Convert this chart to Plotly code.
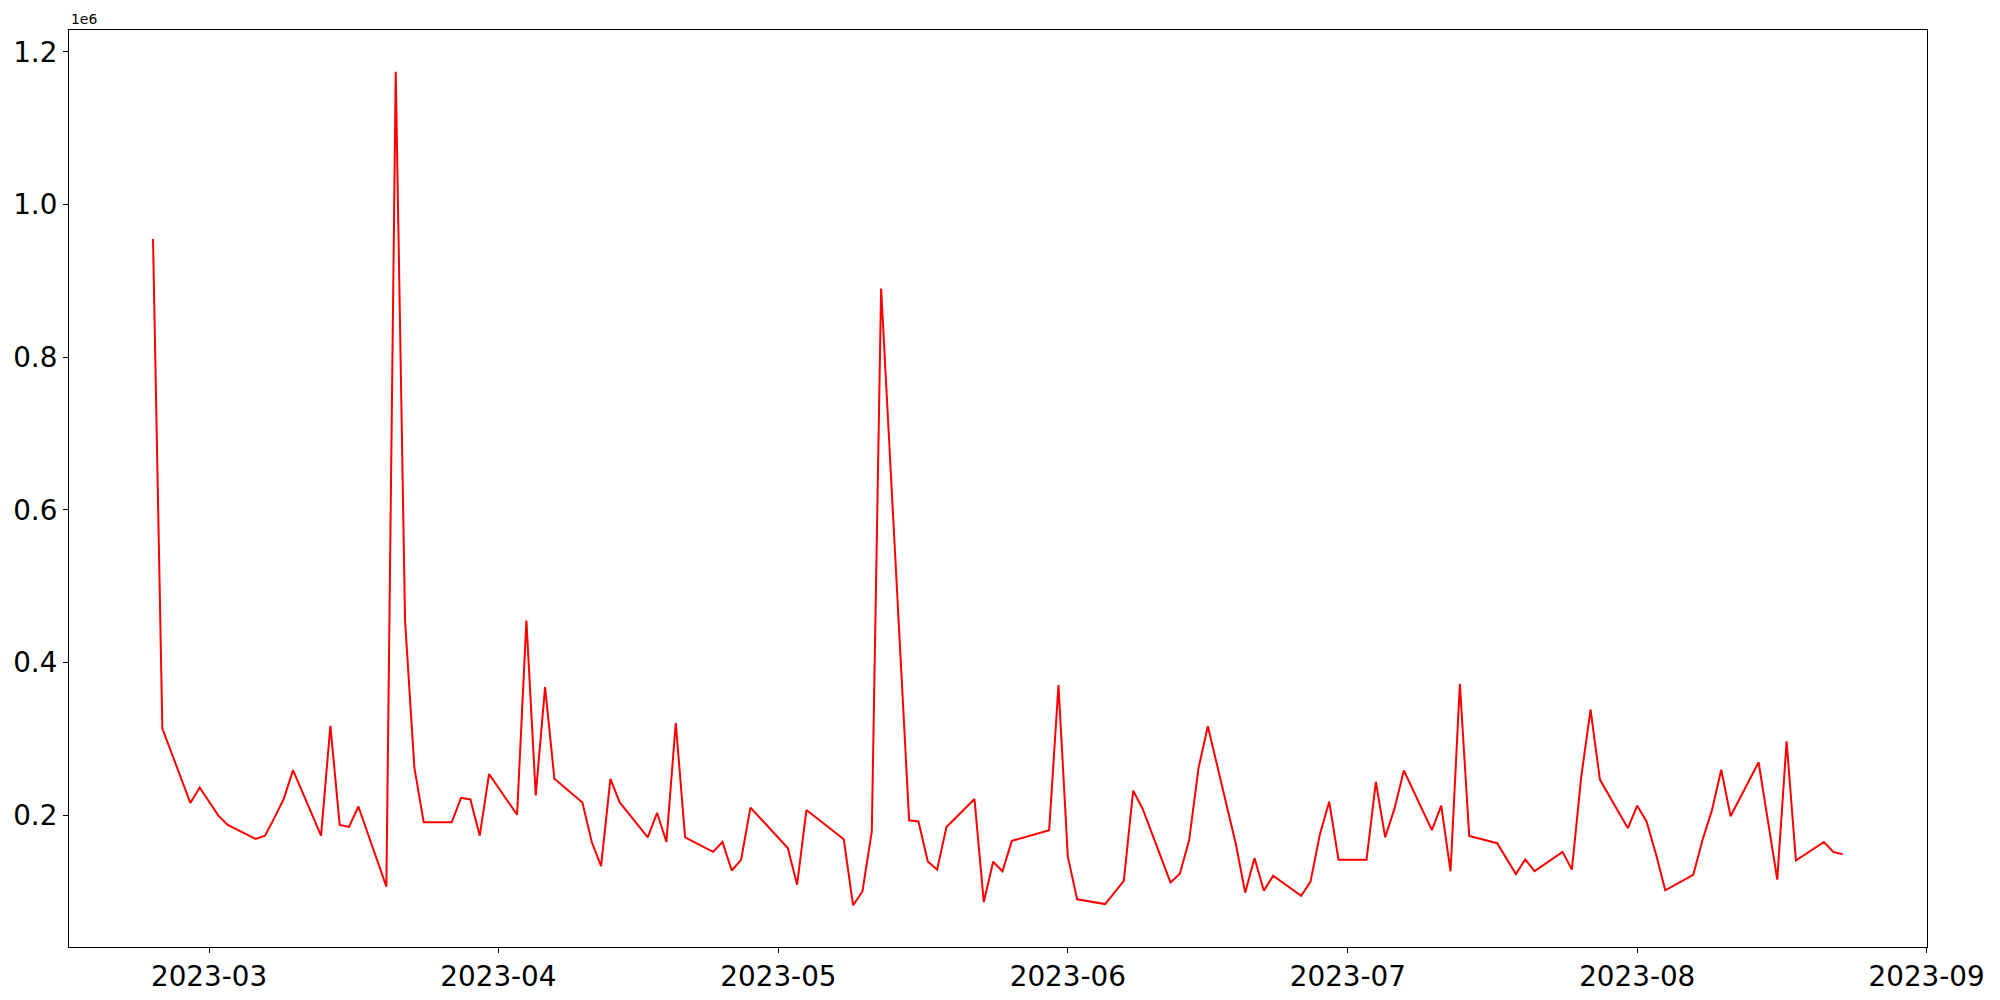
import plotly.graph_objects as go

# weekday series (values in units, axis shown in 1e6)
dates = [
    "2023-02-23", "2023-02-24", "2023-02-27", "2023-02-28", "2023-03-02", "2023-03-03",
    "2023-03-06", "2023-03-07", "2023-03-08", "2023-03-09", "2023-03-10",
    "2023-03-13", "2023-03-14", "2023-03-15", "2023-03-16", "2023-03-17",
    "2023-03-20", "2023-03-21", "2023-03-22", "2023-03-23", "2023-03-24",
    "2023-03-27", "2023-03-28", "2023-03-29", "2023-03-30", "2023-03-31",
    "2023-04-03", "2023-04-04", "2023-04-05", "2023-04-06", "2023-04-07",
    "2023-04-10", "2023-04-11", "2023-04-12", "2023-04-13", "2023-04-14",
    "2023-04-17", "2023-04-18", "2023-04-19", "2023-04-20", "2023-04-21",
    "2023-04-24", "2023-04-25", "2023-04-26", "2023-04-27", "2023-04-28",
    "2023-05-02", "2023-05-03", "2023-05-04",
    "2023-05-08", "2023-05-09", "2023-05-10", "2023-05-11", "2023-05-12",
    "2023-05-15", "2023-05-16", "2023-05-17", "2023-05-18", "2023-05-19",
    "2023-05-22", "2023-05-23", "2023-05-24", "2023-05-25", "2023-05-26",
    "2023-05-30", "2023-05-31", "2023-06-01", "2023-06-02",
    "2023-06-05", "2023-06-07", "2023-06-08", "2023-06-09",
    "2023-06-12", "2023-06-13", "2023-06-14", "2023-06-15", "2023-06-16",
    "2023-06-19", "2023-06-20", "2023-06-21", "2023-06-22", "2023-06-23",
    "2023-06-26", "2023-06-27", "2023-06-28", "2023-06-29", "2023-06-30",
    "2023-07-03", "2023-07-04", "2023-07-05", "2023-07-06", "2023-07-07",
    "2023-07-10", "2023-07-11", "2023-07-12", "2023-07-13", "2023-07-14",
    "2023-07-17", "2023-07-19", "2023-07-20", "2023-07-21",
    "2023-07-24", "2023-07-25", "2023-07-26", "2023-07-27", "2023-07-28",
    "2023-07-31", "2023-08-01", "2023-08-02", "2023-08-03", "2023-08-04",
    "2023-08-07", "2023-08-08", "2023-08-09", "2023-08-10", "2023-08-11",
    "2023-08-14", "2023-08-16", "2023-08-17", "2023-08-18",
    "2023-08-21", "2023-08-22", "2023-08-23",
]
values = [
    955000, 313700, 216300, 236500, 199700, 187400,
    169200, 173400, 196700, 221400, 259300,
    173400, 317300, 187400, 184800, 211600,
    106600, 1174000, 455000, 262400, 190900,
    190900, 223000, 220900, 173400, 254200,
    200800, 455000, 226200, 368000, 247900,
    216900, 165100, 133500, 247900, 216900,
    171300, 203400, 165100, 321000, 171300,
    152200, 165100, 127800, 141800, 210200,
    157300, 109200, 207000,
    168700, 82200, 100300, 179000, 890000,
    193500, 192000, 139700, 128900, 184800,
    221400, 86400, 139200, 126800, 166600,
    180600, 370600, 145900, 90000,
    83800, 114300, 232400, 209100,
    112200, 123600, 167600, 261900, 316800,
    162500, 98800, 144300, 101400, 121000,
    94700, 113300, 175000, 217900, 141800,
    141800, 243800, 171300, 209100, 258800,
    180600, 212700, 126800, 372200, 172900,
    163600, 123100, 142300, 127000,
    152200, 128900, 250500, 338500, 246900,
    183200, 212700, 192000, 149600, 101900,
    122100, 168000, 206500, 259800, 198800,
    269600, 115900, 297100, 140800,
    165100, 152200, 149000,
]

y_ticks = [200000, 400000, 600000, 800000, 1000000, 1200000]
y_tick_labels = ["0.2", "0.4", "0.6", "0.8", "1.0", "1.2"]

font = "DejaVu Sans"

fig = go.Figure()
fig.add_trace(go.Scatter(
    x=dates, y=values, mode="lines",
    line=dict(color="red", width=2),
))

axis_style = dict(
    showline=True, linecolor="black", linewidth=1.1, mirror=True,
    ticks="outside", ticklen=5, tickwidth=1.1, tickcolor="black",
    showgrid=False, zeroline=False, automargin=False,
    tickfont=dict(family=font, size=27.8, color="black"),
)

fig.update_xaxes(
    type="date",
    range=["2023-02-14", "2023-09-01 01:00"],
    tick0="2023-03-01", dtick="M1", tickformat="%Y-%m",
    **axis_style,
)
fig.update_yaxes(
    range=[27600, 1228600],
    tickvals=y_ticks, ticktext=y_tick_labels,
    **axis_style,
)

fig.add_annotation(
    text="1e6", xref="paper", yref="paper", x=0, y=1,
    xanchor="left", yanchor="bottom", showarrow=False, yshift=1,
    font=dict(family=font, size=13.9, color="black"),
)

# the page body adds an 8px offset, so margins are trimmed on the left/top
fig.update_layout(
    width=2000, height=1000,
    margin=dict(l=61, r=81, t=22, b=61),
    plot_bgcolor="white", paper_bgcolor="white",
    showlegend=False,
)

fig.write_html("out.html")
